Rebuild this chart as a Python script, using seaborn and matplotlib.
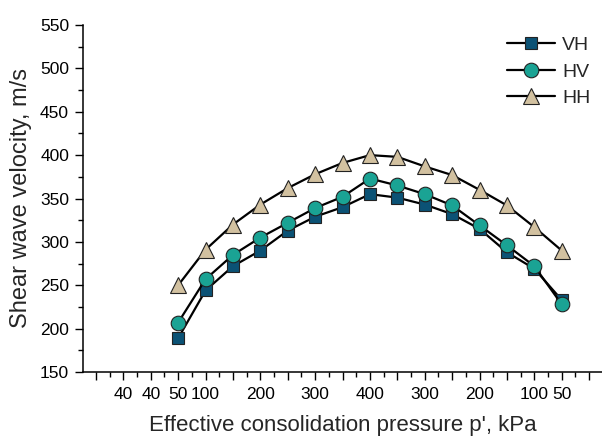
import numpy as np
import pandas as pd
import matplotlib
matplotlib.use("Agg")
import matplotlib.pyplot as plt
from matplotlib.ticker import MultipleLocator
import seaborn as sns

# Loading stage positions (index along the x axis) and velocities
stage = list(range(3, 18))
vh = [189, 244, 272, 290, 313, 329, 340, 355, 351, 343, 332, 315, 288, 269, 233]
hv = [207, 257, 285, 305, 322, 339, 352, 373, 365, 355, 342, 319, 296, 272, 228]
hh = [250, 291, 320, 343, 362, 378, 391, 400, 398, 387, 377, 360, 342, 317, 290]

# Pressure labels at the major tick positions
tick_pos = list(range(0, 19))
tick_text = ["", "40", "40", "50", "100", "", "200", "", "300", "", "400",
             "", "300", "", "200", "", "100", "50", ""]

series = ["VH", "HV", "HH"]
markers = {"VH": "s", "HV": "o", "HH": "^"}
faces = {"VH": "#0b5275", "HV": "#1aa394", "HH": "#d2c1a0"}
sizes = {"VH": 9, "HV": 10.5, "HH": 11.5}

df = pd.DataFrame({
    "stage": stage * len(series),
    "velocity": vh + hv + hh,
    "series": np.repeat(series, len(stage)),
})

sns.set_style("ticks")
plt.rcParams["font.family"] = ["Liberation Sans", "DejaVu Sans"]

fig = plt.figure(figsize=(6.02, 4.38), dpi=100)
ax = fig.add_axes([83 / 602, 66 / 438, 519 / 602, 347 / 438])

for name in series:
    sub = df[df["series"] == name]
    sns.lineplot(data=sub, x="stage", y="velocity", ax=ax, color="black",
                 linewidth=1.6, marker=markers[name], markersize=sizes[name],
                 markerfacecolor=faces[name], markeredgecolor="#222222",
                 markeredgewidth=0.8, label=name, errorbar=None)

ax.set_xlim(-0.474, 18.47)
ax.set_ylim(150, 550)
ax.set_xticks(tick_pos)
ax.set_xticklabels(tick_text)
ax.xaxis.set_minor_locator(MultipleLocator(0.5))
ax.yaxis.set_major_locator(MultipleLocator(50))
ax.yaxis.set_minor_locator(MultipleLocator(25))

for side in ("top", "right"):
    ax.spines[side].set_visible(False)
for side in ("left", "bottom"):
    ax.spines[side].set_linewidth(1.1)
    ax.spines[side].set_color("black")

ax.tick_params(axis="both", which="major", direction="out", length=6,
               width=1.0, colors="black", labelsize=12.5)
ax.tick_params(axis="x", which="major", pad=5)
ax.tick_params(axis="y", which="major", pad=4)
ax.tick_params(axis="both", which="minor", direction="out", length=3.5,
               width=1.0, colors="black")

ax.set_xlabel("Effective consolidation pressure p', kPa", fontsize=16, labelpad=9)
ax.set_ylabel("Shear wave velocity, m/s", fontsize=17, labelpad=6)

leg = ax.legend(loc="upper right", frameon=False, fontsize=14,
                handlelength=2.5, handletextpad=0.35, labelspacing=0.45,
                borderaxespad=0.2, bbox_to_anchor=(1.0, 1.0))

fig.savefig("out.png", dpi=100)
